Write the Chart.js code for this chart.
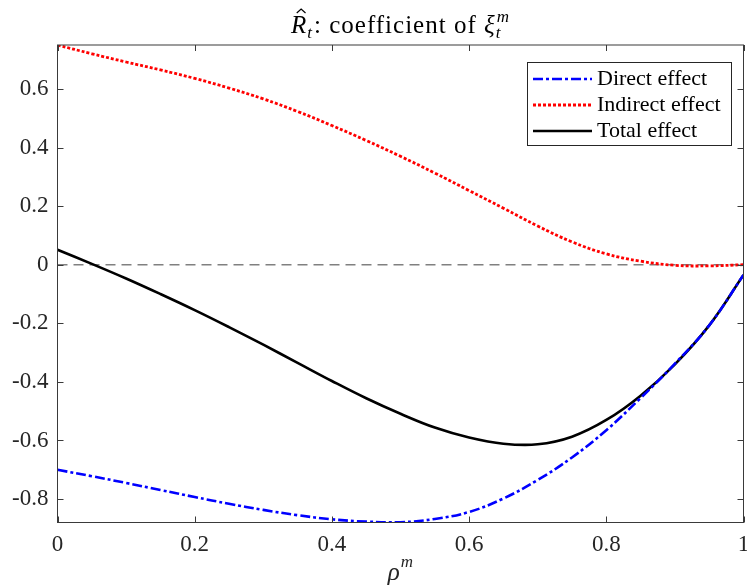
<!DOCTYPE html>
<html>
<head>
<meta charset="utf-8">
<script src="https://cdn.jsdelivr.net/npm/chart.js@4.4.1/dist/chart.umd.min.js"></script>
<style>
    html, body { margin: 0; padding: 0; background: #fff; }
    #wrap { width: 747px; height: 587px; }
</style>
</head>
<body>
<div id="wrap"><canvas id="chart" width="747" height="587"></canvas></div>
<script>
const rho = [0, 0.05, 0.1, 0.15, 0.2, 0.25, 0.3, 0.35, 0.4, 0.45, 0.5,
             0.55, 0.6, 0.65, 0.7, 0.75, 0.8, 0.85, 0.9, 0.95, 1];
const directEffect = [-0.700, -0.722, -0.745, -0.769, -0.793, -0.816, -0.837, -0.855, -0.869, -0.877, -0.879,
                      -0.868, -0.844, -0.798, -0.735, -0.658, -0.565, -0.455, -0.338, -0.207, -0.035];
const indirectEffect = [0.750, 0.720, 0.692, 0.665, 0.636, 0.603, 0.566, 0.523, 0.475, 0.424, 0.370,
                        0.313, 0.253, 0.193, 0.132, 0.078, 0.037, 0.012, -0.002, -0.004, 0.000];
const totalEffect = [0.051, 0.003, -0.047, -0.100, -0.155, -0.213, -0.273, -0.335, -0.397, -0.456, -0.509,
                     -0.556, -0.590, -0.611, -0.613, -0.587, -0.530, -0.447, -0.340, -0.207, -0.035];
const zeroX = [0, 1];
const zeroY = [0, 0];
const xTicks = [0, 0.2, 0.4, 0.6, 0.8, 1];
const yTicks = [-0.8, -0.6, -0.4, -0.2, 0, 0.2, 0.4, 0.6];
const seriesLabels = ['Direct effect', 'Indirect effect', 'Total effect'];

const SERIF = '"Liberation Serif", "Times New Roman", serif';
const AXIS_COLOR = '#3a3a3a';
const TEXT_COLOR = '#262626';

const toPoints = (xs, ys) => xs.map((x, i) => ({ x, y: ys[i] }));

// box, inward ticks, title, x label and the boxed legend
const decorations = {
    id: 'decorations',
    afterDraw(chart) {
        const { ctx, chartArea: a, scales: { x, y } } = chart;
        ctx.save();

        ctx.strokeStyle = AXIS_COLOR;
        ctx.lineWidth = 1;
        ctx.strokeRect(a.left, a.top, a.right - a.left, a.bottom - a.top);

        const tick = 6;
        ctx.beginPath();
        xTicks.forEach(v => {
            const px = Math.round(x.getPixelForValue(v)) + 0.5;
            ctx.moveTo(px, a.bottom); ctx.lineTo(px, a.bottom - tick);
            ctx.moveTo(px, a.top); ctx.lineTo(px, a.top + tick);
        });
        yTicks.forEach(v => {
            const py = Math.round(y.getPixelForValue(v)) + 0.5;
            ctx.moveTo(a.left, py); ctx.lineTo(a.left + tick, py);
            ctx.moveTo(a.right, py); ctx.lineTo(a.right - tick, py);
        });
        ctx.stroke();

        // title: R-hat_t: coefficient of xi_t^m
        ctx.fillStyle = '#000';
        ctx.textBaseline = 'alphabetic';
        ctx.textAlign = 'left';
        ctx.letterSpacing = '1px';
        const big = `italic 25px ${SERIF}`;
        const small = `italic 17px ${SERIF}`;
        const plain = `25px ${SERIF}`;
        const parts = [
            { text: 'R', font: big, dy: 0, hat: true },
            { text: 't', font: small, dy: 5 },
            { text: ': coefficient of ', font: plain, dy: 0 },
            { text: 'ξ', font: big, dy: 0 },
            { text: 't', font: small, dy: 5, stack: 'm' }
        ];
        let width = 0;
        parts.forEach(p => {
            ctx.font = p.font;
            p.w = ctx.measureText(p.text).width;
            if (p.stack) p.w = Math.max(p.w, ctx.measureText(p.stack).width);
            width += p.w + (p.font === small ? 1 : 0);
        });
        let tx = (a.left + a.right) / 2 - width / 2;
        const base = 33;
        parts.forEach(p => {
            ctx.font = p.font;
            ctx.fillText(p.text, tx, base + p.dy);
            if (p.stack) ctx.fillText(p.stack, tx + 1, base - 11);
            if (p.hat) {
                ctx.beginPath();
                ctx.lineWidth = 1.2;
                ctx.strokeStyle = '#000';
                ctx.moveTo(tx + p.w * 0.35, base - 20);
                ctx.lineTo(tx + p.w * 0.62, base - 24);
                ctx.lineTo(tx + p.w * 0.89, base - 20);
                ctx.stroke();
            }
            tx += p.w + (p.font === small ? 1 : 0);
        });
        ctx.letterSpacing = '0px';

        // x axis label: rho^m
        ctx.fillStyle = TEXT_COLOR;
        ctx.font = big;
        const rw = ctx.measureText('ρ').width;
        ctx.font = small;
        const mw = ctx.measureText('m').width;
        const lx = (a.left + a.right) / 2 - (rw + mw + 1) / 2;
        ctx.font = big;
        ctx.fillText('ρ', lx, 580);
        ctx.font = small;
        ctx.fillText('m', lx + rw + 1, 567);

        // legend
        const lg = { left: 527.5, top: 62.5, right: 731.5, bottom: 145.5 };
        ctx.fillStyle = '#fff';
        ctx.fillRect(lg.left, lg.top, lg.right - lg.left, lg.bottom - lg.top);
        ctx.strokeStyle = TEXT_COLOR;
        ctx.lineWidth = 1;
        ctx.strokeRect(lg.left, lg.top, lg.right - lg.left, lg.bottom - lg.top);
        ctx.font = `22px ${SERIF}`;
        chart.data.datasets.slice(0, 3).forEach((ds, i) => {
            const ly = 79 + i * 26;
            ctx.beginPath();
            ctx.strokeStyle = ds.borderColor;
            ctx.lineWidth = ds.borderWidth;
            ctx.setLineDash(ds.borderDash);
            ctx.moveTo(533, ly);
            ctx.lineTo(592, ly);
            ctx.stroke();
            ctx.setLineDash([]);
            ctx.fillStyle = '#000';
            ctx.fillText(ds.label, 597, ly + 6);
        });

        ctx.restore();
    }
};

new Chart(document.getElementById('chart'), {
    type: 'line',
    data: {
        datasets: [
            {
                label: seriesLabels[0],
                data: toPoints(rho, directEffect),
                borderColor: '#0000ff',
                borderWidth: 2.6,
                borderDash: [10, 3, 3, 3],
                pointRadius: 0,
                tension: 0.4
            },
            {
                label: seriesLabels[1],
                data: toPoints(rho, indirectEffect),
                borderColor: '#ff0000',
                borderWidth: 2.8,
                borderDash: [3, 2],
                pointRadius: 0,
                tension: 0.4
            },
            {
                label: seriesLabels[2],
                data: toPoints(rho, totalEffect),
                borderColor: '#000000',
                borderWidth: 2.6,
                borderDash: [],
                pointRadius: 0,
                tension: 0.4
            },
            {
                label: 'zero',
                data: toPoints(zeroX, zeroY),
                borderColor: '#808080',
                borderWidth: 1.5,
                borderDash: [10, 6],
                pointRadius: 0
            }
        ]
    },
    options: {
        responsive: false,
        animation: false,
        devicePixelRatio: 1,
        layout: { padding: { top: 45, right: 3.5, bottom: 0, left: 0 }, autoPadding: false },
        plugins: {
            legend: { display: false },
            title: { display: false },
            tooltip: { enabled: false }
        },
        scales: {
            x: {
                type: 'linear',
                min: 0,
                max: 1,
                grid: { display: false, drawTicks: false },
                border: { display: false },
                afterBuildTicks: scale => { scale.ticks = xTicks.map(value => ({ value })); },
                afterFit: scale => {
                    scale.height = 64.5;
                    scale.paddingLeft = 0;
                    scale.paddingRight = 0;
                },
                ticks: {
                    padding: 9,
                    maxRotation: 0,
                    color: TEXT_COLOR,
                    font: { family: SERIF, size: 23 },
                    callback: value => String(value)
                }
            },
            y: {
                type: 'linear',
                min: -0.88,
                max: 0.75,
                grid: { display: false, drawTicks: false },
                border: { display: false },
                afterBuildTicks: scale => { scale.ticks = yTicks.map(value => ({ value })); },
                afterFit: scale => {
                    scale.width = 57.5;
                    scale.paddingTop = 0;
                    scale.paddingBottom = 0;
                },
                ticks: {
                    padding: 9,
                    color: TEXT_COLOR,
                    font: { family: SERIF, size: 23 },
                    callback: value => String(value)
                }
            }
        }
    },
    plugins: [decorations]
});
</script>
</body>
</html>
